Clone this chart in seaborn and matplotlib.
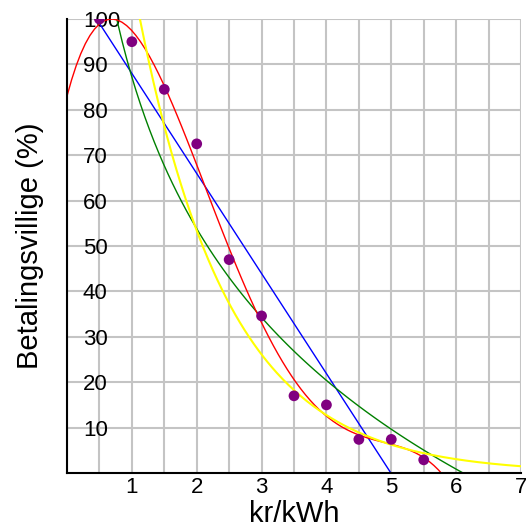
import numpy as np
import pandas as pd
import matplotlib
matplotlib.use("Agg")
import matplotlib.pyplot as plt
from matplotlib.ticker import MultipleLocator
import seaborn as sns

# pris (kr/kWh) og andel betalingsvillige (%)
pris = [0.5, 1.0, 1.5, 2.0, 2.5, 3.0, 3.5, 4.0, 4.5, 5.0, 5.5]
villige = [100, 95, 84.5, 72.5, 47, 34.6, 17, 15, 7.4, 7.4, 2.9]

x_ticks = [1, 2, 3, 4, 5, 6, 7]
y_ticks = [10, 20, 30, 40, 50, 60, 70, 80, 90, 100]

df = pd.DataFrame({"pris": pris, "villige": villige})

sns.set_style("white", {"axes.edgecolor": "black", "text.color": "black",
                        "xtick.color": "black", "ytick.color": "black",
                        "axes.labelcolor": "black"})
plt.rcParams["font.family"] = ["Liberation Sans", "DejaVu Sans"]

fig = plt.figure(figsize=(5.26, 5.28), dpi=100)
ax = fig.add_axes([67 / 526, 55 / 528, 454 / 526, 454 / 528])
ax.set_xlim(0, 7)
ax.set_ylim(0, 100)

# tilpassede kurver: lineær, logaritmisk, polynom
fit_kw = dict(scatter=False, ci=None, truncate=False, ax=ax)
with np.errstate(divide="ignore", invalid="ignore"):
    sns.regplot(data=df, x="pris", y="villige", order=1,
                line_kws={"color": "#0000ff", "lw": 1.0}, **fit_kw)
    sns.regplot(data=df, x="pris", y="villige", logx=True,
                line_kws={"color": "#008000", "lw": 1.0}, **fit_kw)
    sns.regplot(data=df, x="pris", y="villige", order=4,
                line_kws={"color": "#ff0000", "lw": 1.0}, **fit_kw)

# eksponentiell tilpasning (ln y lineær i x)
b, a = np.polyfit(df["pris"], np.log(df["villige"]), 1)
xs = np.linspace(0, 7, 300)
sns.lineplot(x=xs, y=np.exp(a + b * xs), color="#ffff00", lw=1.5, ax=ax)

sns.scatterplot(data=df, x="pris", y="villige", color="#800080", s=60,
                edgecolor="none", zorder=5, ax=ax)

ax.set_xlim(0, 7)
ax.set_ylim(0, 100)
ax.set_xticks(x_ticks)
ax.xaxis.set_minor_locator(MultipleLocator(0.5))
ax.set_yticks(y_ticks)

ax.set_axisbelow(True)
ax.grid(True, which="both", axis="x", color="#c4c4c4", lw=1.5)
ax.grid(True, which="major", axis="y", color="#c4c4c4", lw=1.5)

ax.tick_params(axis="x", which="both", direction="in", length=7, width=1.5,
               labelsize=16, pad=3)
ax.tick_params(axis="y", direction="in", length=9, width=1.5,
               labelsize=16, pad=-11.5)
plt.setp(ax.get_yticklabels(), ha="left")

for side in ["top", "right"]:
    ax.spines[side].set_visible(False)
for side in ["left", "bottom"]:
    ax.spines[side].set_linewidth(1.5)
    ax.spines[side].set_color("black")

ax.set_xlabel("kr/kWh", fontsize=21, labelpad=1)
ax.set_ylabel("Betalingsvillige (%)", fontsize=21)
ax.yaxis.set_label_coords(-0.05, 0.5)

fig.savefig("out.png", dpi=100)
